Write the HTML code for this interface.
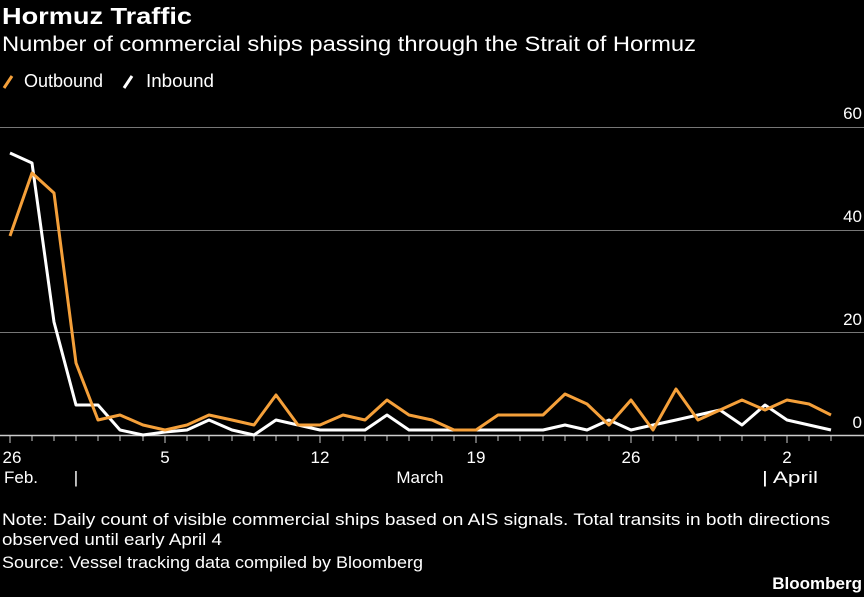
<!DOCTYPE html><html><head><style>
body{margin:0;background:#000;width:864px;height:597px;overflow:hidden;font-family:"Liberation Sans",sans-serif;color:#fff}
</style></head><body>
<svg width="864" height="597" xmlns="http://www.w3.org/2000/svg" style="position:absolute;left:0;top:0">
<rect width="864" height="597" fill="#000"/>
<text x="2" y="24" font-size="23" font-weight="bold" fill="#fff" font-family="Liberation Sans,sans-serif" textLength="190" lengthAdjust="spacingAndGlyphs">Hormuz Traffic</text>
<text x="2" y="51" font-size="21" fill="#fff" font-family="Liberation Sans,sans-serif" textLength="694" lengthAdjust="spacingAndGlyphs">Number of commercial ships passing through the Strait of Hormuz</text>
<line x1="4" y1="88" x2="12" y2="76" stroke="#f5a03a" stroke-width="3"/>
<text x="24" y="87" font-size="18" fill="#fff" font-family="Liberation Sans,sans-serif" textLength="79" lengthAdjust="spacingAndGlyphs">Outbound</text>
<line x1="124" y1="88" x2="132" y2="76" stroke="#fff" stroke-width="3"/>
<text x="146" y="87" font-size="18" fill="#fff" font-family="Liberation Sans,sans-serif" textLength="68" lengthAdjust="spacingAndGlyphs">Inbound</text>
<g stroke="#777" stroke-width="1">
<line x1="0" y1="127.5" x2="864" y2="127.5"/><line x1="0" y1="230.5" x2="864" y2="230.5"/><line x1="0" y1="332.5" x2="864" y2="332.5"/>
</g>
<line x1="0" y1="435.5" x2="864" y2="435.5" stroke="#ccc" stroke-width="1.5"/>
<g font-size="17" fill="#fff" font-family="Liberation Sans,sans-serif" text-anchor="end">
<text x="862" y="119">60</text><text x="862" y="222">40</text><text x="862" y="325">20</text><text x="862" y="428">0</text></g>
<g stroke="#ccc" stroke-width="1">
<path d="M10 436v7M32 436v5M54 436v5M76 436v5M98 436v5M120 436v5M143 436v5M165 436v7M187 436v5M209 436v5M232 436v5M254 436v5M276 436v5M298 436v5M320 436v7M343 436v5M365 436v5M387 436v5M409 436v5M432 436v5M454 436v5M476 436v7M498 436v5M520 436v5M543 436v5M565 436v5M587 436v5M609 436v5M631 436v7M653 436v5M676 436v5M698 436v5M720 436v5M742 436v5M765 436v5M787 436v7M809 436v5M831 436v5"/>
</g>
<g font-size="17" fill="#fff" font-family="Liberation Sans,sans-serif" text-anchor="middle">
<text x="12" y="463">26</text><text x="165" y="463">5</text><text x="320" y="463">12</text><text x="476" y="463">19</text><text x="631" y="463">26</text><text x="787" y="463">2</text>
<text x="4" y="483" text-anchor="start">Feb.</text><text x="76" y="483">|</text><text x="420" y="483">March</text><text x="762" y="483" text-anchor="start" textLength="56" lengthAdjust="spacingAndGlyphs">| April</text></g>
<polyline fill="none" stroke="#fff" stroke-width="3" stroke-linejoin="round" points="10,153 32,163 54,322 76,405 98,405 120,430 143,435 165,432 187,430 209,420 232,430 254,435 276,420 298,425 320,430 343,430 365,430 387,415 409,430 432,430 454,430 476,430 498,430 520,430 543,430 565,425 587,430 609,420 631,430 653,425 676,420 698,415 720,410 742,425 765,405 787,420 809,425 831,430"/>
<polyline fill="none" stroke="#f5a03a" stroke-width="3" stroke-linejoin="round" points="10,236 32,173 54,193 76,363 98,420 120,415 143,425 165,430 187,425 209,415 232,420 254,425 276,395 298,425 320,425 343,415 365,420 387,400 409,415 432,420 454,430 476,430 498,415 520,415 543,415 565,394 587,404 609,425 631,400 653,430 676,389 698,420 720,410 742,400 765,410 787,400 809,404 831,415"/>
<g font-size="17" fill="#fff" font-family="Liberation Sans,sans-serif">
<text x="2" y="525" textLength="828" lengthAdjust="spacingAndGlyphs">Note: Daily count of visible commercial ships based on AIS signals. Total transits in both directions</text>
<text x="2" y="545" textLength="220" lengthAdjust="spacingAndGlyphs">observed until early April 4</text>
<text x="2" y="568" textLength="421" lengthAdjust="spacingAndGlyphs">Source: Vessel tracking data compiled by Bloomberg</text></g>
<text x="862" y="589" text-anchor="end" font-size="17" font-weight="bold" fill="#fff" font-family="Liberation Sans,sans-serif">Bloomberg</text>
</svg>
</body></html>
